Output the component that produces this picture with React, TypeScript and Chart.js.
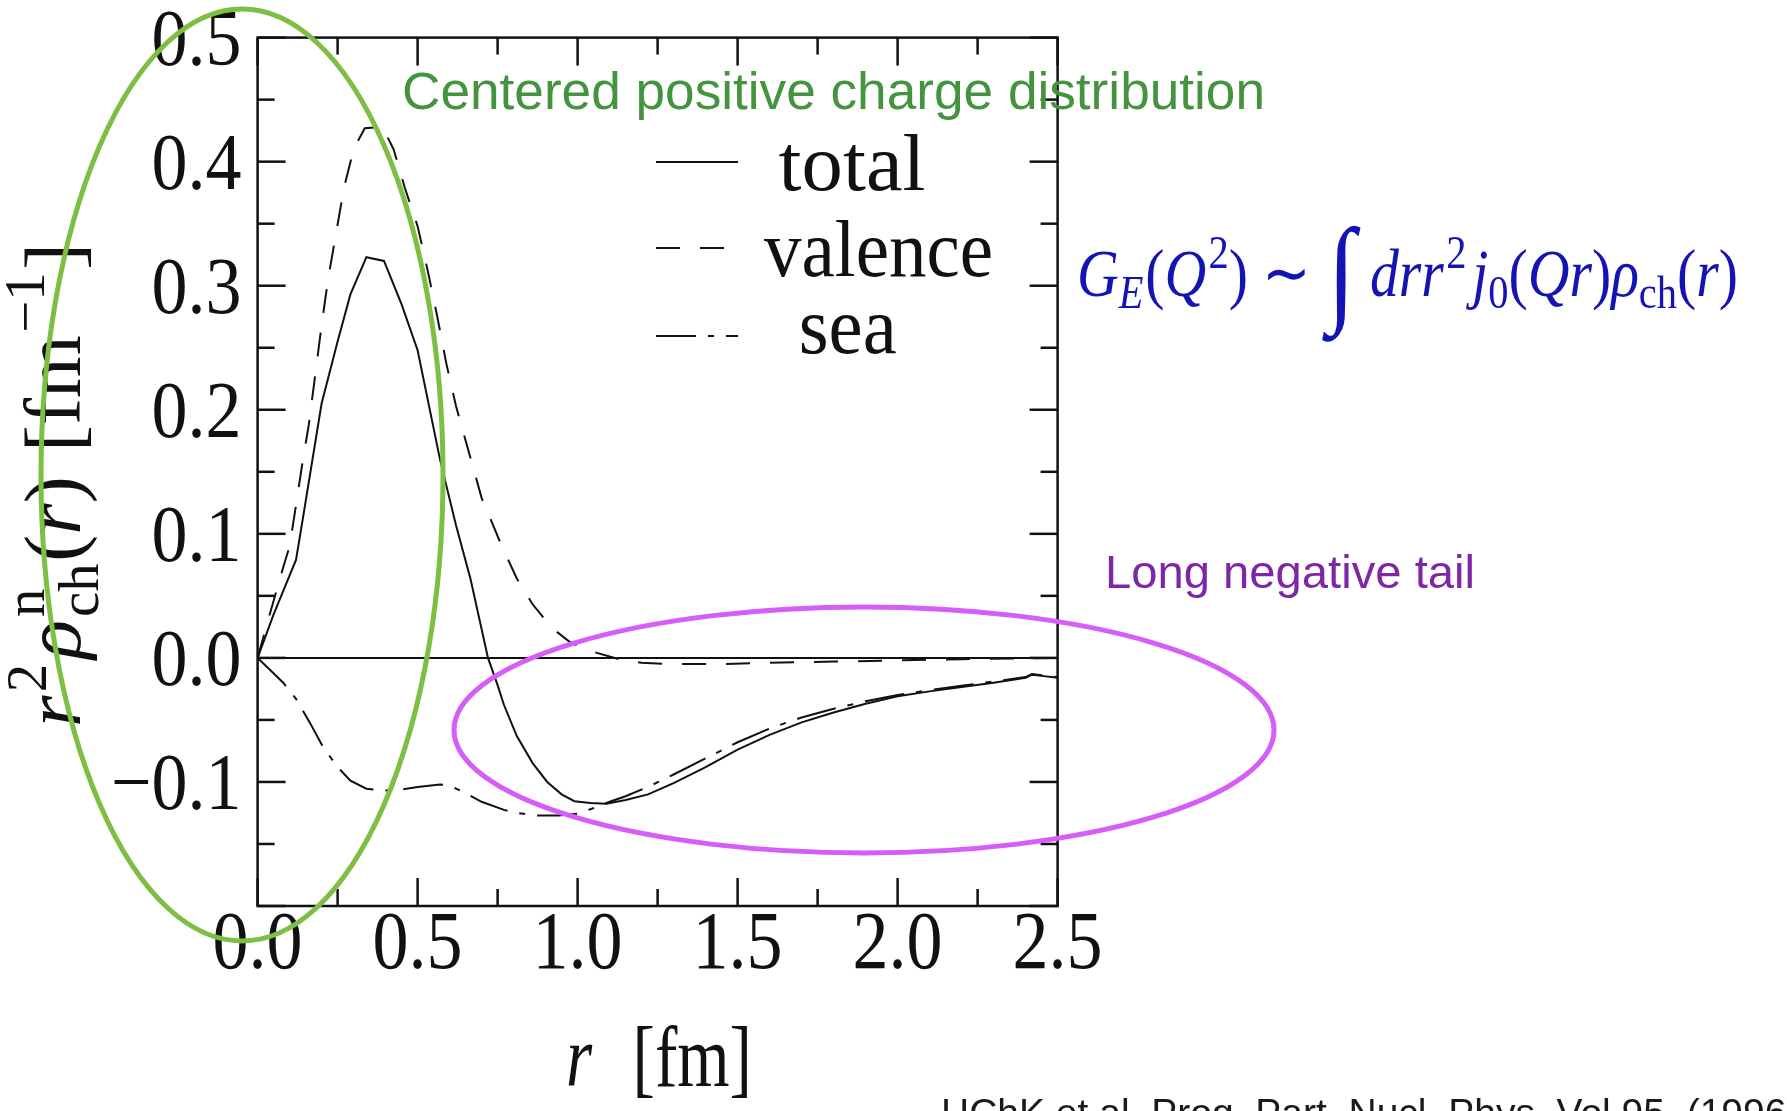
import React, { useEffect, useRef } from "react";
import { Chart, registerables } from "chart.js";

Chart.register(...registerables);

// ---------- data ----------
const rTotal = [0, 0.05, 0.12, 0.14, 0.2, 0.25, 0.29, 0.34, 0.395, 0.45, 0.5, 0.57, 0.62, 0.665, 0.72, 0.75, 0.77, 0.81, 0.86, 0.905, 0.95, 0.99, 1.04, 1.09, 1.15, 1.22, 1.3, 1.4, 1.5, 1.6, 1.7, 1.8, 1.9, 2.0, 2.1, 2.2, 2.3, 2.4, 2.42, 2.45, 2.5];
const vTotal = [0, 0.035, 0.079, 0.11, 0.205, 0.255, 0.293, 0.323, 0.32, 0.285, 0.248, 0.16, 0.107, 0.064, 0, -0.022, -0.038, -0.063, -0.085, -0.1, -0.11, -0.1155, -0.117, -0.1175, -0.1145, -0.11, -0.101, -0.088, -0.074, -0.062, -0.052, -0.044, -0.037, -0.031, -0.027, -0.0235, -0.02, -0.016, -0.0135, -0.0145, -0.016];

const rValence = [0, 0.04, 0.08, 0.1, 0.12, 0.14, 0.16, 0.18, 0.2, 0.22, 0.245, 0.27, 0.3, 0.335, 0.39, 0.425, 0.46, 0.5, 0.53, 0.56, 0.59, 0.62, 0.66, 0.7, 0.76, 0.81, 0.86, 0.92, 0.98, 1.06, 1.13, 1.2, 1.3, 1.45, 1.6, 1.8, 2.0, 2.2, 2.5];
const vValence = [0, 0.037, 0.073, 0.09, 0.123, 0.157, 0.188, 0.228, 0.268, 0.305, 0.342, 0.379, 0.41, 0.427, 0.428, 0.41, 0.379, 0.348, 0.314, 0.277, 0.237, 0.203, 0.166, 0.129, 0.092, 0.064, 0.043, 0.024, 0.012, 0.004, -0.001, -0.004, -0.005, -0.005, -0.004, -0.003, -0.002, -0.001, 0];

const rSea = [0, 0.04, 0.08, 0.12, 0.165, 0.205, 0.25, 0.29, 0.34, 0.39, 0.44, 0.5, 0.57, 0.6, 0.65, 0.7, 0.77, 0.81, 0.87, 0.94, 1.0, 1.04, 1.1, 1.15, 1.22, 1.3, 1.4, 1.5, 1.6, 1.7, 1.8, 1.9, 2.0, 2.1, 2.2, 2.3, 2.4, 2.42, 2.45, 2.5];
const vSea = [0, -0.01, -0.02, -0.033, -0.053, -0.072, -0.088, -0.099, -0.1055, -0.107, -0.1065, -0.104, -0.102, -0.103, -0.109, -0.116, -0.1225, -0.125, -0.127, -0.127, -0.1255, -0.122, -0.116, -0.1115, -0.104, -0.094, -0.081, -0.068, -0.057, -0.048, -0.041, -0.035, -0.03, -0.026, -0.0225, -0.019, -0.0155, -0.013, -0.014, -0.0155];

const rZero = [0, 2.5];
const vZero = [0, 0];

const seriesLabels = ["total", "valence", "sea"];
const xMajorTicks = [0, 0.5, 1.0, 1.5, 2.0, 2.5];
const xMinorTicks = [0.25, 0.75, 1.25, 1.75, 2.25];
const yMajorTicks = [-0.2, -0.1, 0, 0.1, 0.2, 0.3, 0.4, 0.5];
const yMinorTicks = [-0.15, -0.05, 0.05, 0.15, 0.25, 0.35, 0.45];
const yLabelTicks = [-0.1, 0, 0.1, 0.2, 0.3, 0.4, 0.5];

const annotationGreen = "Centered positive charge distribution";
const annotationPurple = "Long negative tail";
const citation = "HChK et al. Prog. Part. Nucl. Phys. Vol.95, (1996)";

// ---------- layout ----------
const W = 1787;
const H = 1111;
const AREA = { left: 257.6, right: 1057.6, top: 37.6, bottom: 906 };
const SERIF = '"Liberation Serif", "Times New Roman", serif';
const SANS = '"Liberation Sans", Arial, sans-serif';

const pts = (xs: number[], ys: number[]) => xs.map((x, i) => ({ x, y: ys[i] }));

function fmt(v: number) {
  const s = Math.abs(v).toFixed(1);
  return v < -1e-9 ? "\u2212" + s : s;
}

function drawText(ctx: CanvasRenderingContext2D, s: string, x: number, y: number, font: string, color: string, align: CanvasTextAlign, sx: number, sy: number) {
  ctx.save();
  ctx.font = font;
  ctx.fillStyle = color;
  ctx.textAlign = align;
  ctx.textBaseline = "alphabetic";
  ctx.translate(x, y);
  ctx.scale(sx, sy);
  ctx.fillText(s, 0, 0);
  ctx.restore();
}

function fitText(ctx: CanvasRenderingContext2D, s: string, x: number, y: number, font: string, color: string, width: number, sy: number) {
  ctx.save();
  ctx.font = font;
  const w = ctx.measureText(s).width;
  ctx.restore();
  drawText(ctx, s, x, y, font, color, "left", width / w, sy);
}

type Seg = { t: string; it?: boolean; k?: number; dy?: number; stay?: boolean; gap?: number };

function drawMath(ctx: CanvasRenderingContext2D, segs: Seg[], x: number, y: number, size: number, color: string, target: number, sy: number, rotate: boolean) {
  ctx.save();
  const fontOf = (s: Seg) => `${s.it ? "italic " : ""}${size * (s.k ?? 1)}px ${SERIF}`;
  let total = 0;
  const adv: number[] = [];
  for (const s of segs) {
    ctx.font = fontOf(s);
    const w = ctx.measureText(s.t).width;
    total += (s.gap ?? 0) * size;
    adv.push(w);
    if (!s.stay) total += w;
  }
  const sx = target / total;
  ctx.translate(x, y);
  if (rotate) ctx.rotate(-Math.PI / 2);
  ctx.scale(sx, sy);
  ctx.fillStyle = color;
  ctx.textBaseline = "alphabetic";
  ctx.textAlign = "left";
  let cx = 0;
  segs.forEach((s, i) => {
    cx += (s.gap ?? 0) * size;
    ctx.font = fontOf(s);
    ctx.fillText(s.t, cx, (s.dy ?? 0) * size);
    if (!s.stay) cx += adv[i];
  });
  ctx.restore();
}

const decorPlugin = {
  id: "decor",
  beforeDraw(chart: any) {
    const ctx = chart.ctx;
    ctx.save();
    ctx.fillStyle = "#ffffff";
    ctx.fillRect(0, 0, chart.width, chart.height);
    ctx.restore();
  },
  afterDraw(chart: any) {
    const ctx: CanvasRenderingContext2D = chart.ctx;
    const { left, right, top, bottom } = chart.chartArea;
    const xs = chart.scales.x;
    const ys = chart.scales.y;
    const ink = "#111111";

    // frame
    ctx.save();
    ctx.strokeStyle = ink;
    ctx.lineWidth = 2.5;
    ctx.strokeRect(left, top, right - left, bottom - top);

    // inward ticks on all four sides
    const tick = (x1: number, y1: number, x2: number, y2: number) => {
      ctx.beginPath();
      ctx.moveTo(x1, y1);
      ctx.lineTo(x2, y2);
      ctx.stroke();
    };
    const MAJ = 28;
    const MIN = 17;
    xMajorTicks.forEach((v) => {
      const px = xs.getPixelForValue(v);
      tick(px, bottom, px, bottom - MAJ);
      tick(px, top, px, top + MAJ);
    });
    xMinorTicks.forEach((v) => {
      const px = xs.getPixelForValue(v);
      tick(px, bottom, px, bottom - MIN);
      tick(px, top, px, top + MIN);
    });
    yMajorTicks.forEach((v) => {
      const py = ys.getPixelForValue(v);
      tick(left, py, left + MAJ, py);
      tick(right, py, right - MAJ, py);
    });
    yMinorTicks.forEach((v) => {
      const py = ys.getPixelForValue(v);
      tick(left, py, left + MIN, py);
      tick(right, py, right - MIN, py);
    });
    ctx.restore();

    // tick labels
    const tickFont = `72px ${SERIF}`;
    xMajorTicks.forEach((v) => {
      drawText(ctx, fmt(v), xs.getPixelForValue(v), 968, tickFont, ink, "center", 1, 1.15);
    });
    yLabelTicks.forEach((v) => {
      drawText(ctx, fmt(v), left - 16, ys.getPixelForValue(v) + 27, tickFont, ink, "right", 1, 1.12);
    });

    // legend (from dataset styles)
    const lineY = [162, 248, 336];
    const textX = [778.6, 764, 798.7];
    const textBase = [190, 276, 352.7];
    const textW = [147, 229, 98];
    seriesLabels.forEach((lab, i) => {
      const ds = chart.data.datasets[i];
      ctx.save();
      ctx.strokeStyle = ds.borderColor;
      ctx.lineWidth = ds.borderWidth;
      ctx.setLineDash(ds.borderDash || []);
      ctx.beginPath();
      ctx.moveTo(656, lineY[i]);
      ctx.lineTo(738, lineY[i]);
      ctx.stroke();
      ctx.restore();
      fitText(ctx, lab, textX[i], textBase[i], `74px ${SERIF}`, ink, textW[i], 1.1);
    });

    // x axis title: r [fm]
    drawMath(ctx, [{ t: "r", it: true }, { t: "[fm]", gap: 0.6 }], 566, 1086, 66, ink, 186, 1.3, false);

    // y axis title: r^2 rho^n_ch(r) [fm^-1]
    drawMath(
      ctx,
      [
        { t: "r", it: true },
        { t: "2", k: 0.7, dy: -0.42, gap: 0.04 },
        { t: "\u03C1", it: true, gap: 0.06 },
        { t: "n", k: 0.7, dy: -0.45, stay: true, gap: 0.04 },
        { t: "ch", k: 0.7, dy: 0.22 },
        { t: "(", gap: 0.02 },
        { t: "r", it: true },
        { t: ")" },
        { t: "[", gap: 0.3 },
        { t: "fm" },
        { t: "\u22121", k: 0.7, dy: -0.45, gap: 0.03 },
        { t: "]", gap: 0.03 },
      ],
      80,
      727,
      80,
      ink,
      484,
      1.0,
      true
    );

    // annotations
    ctx.save();
    ctx.lineWidth = 5;
    ctx.strokeStyle = "#7DBE43";
    ctx.beginPath();
    ctx.ellipse(242, 475, 201, 466, 0, 0, Math.PI * 2);
    ctx.stroke();
    ctx.strokeStyle = "#D45EF7";
    ctx.beginPath();
    ctx.ellipse(864, 730, 410, 123, 0, 0, Math.PI * 2);
    ctx.stroke();
    ctx.restore();

    fitText(ctx, annotationGreen, 402, 109, `51px ${SANS}`, "#44943F", 863, 1);
    fitText(ctx, annotationPurple, 1105, 588, `47px ${SANS}`, "#7E27A6", 370, 1);

    // formula
    drawMath(
      ctx,
      [
        { t: "G", it: true },
        { t: "E", it: true, k: 0.7, dy: 0.18 },
        { t: "(", gap: 0.03 },
        { t: "Q", it: true },
        { t: "2", k: 0.7, dy: -0.42, gap: 0.04 },
        { t: ")" },
        { t: "\u223C", gap: 0.25 },
        { t: "\u222B", k: 1.75, dy: 0.2, gap: 0.3 },
        { t: "d", it: true, gap: 0.25 },
        { t: "r", it: true },
        { t: "r", it: true },
        { t: "2", k: 0.7, dy: -0.42, gap: 0.04 },
        { t: "j", it: true, gap: 0.1 },
        { t: "0", k: 0.7, dy: 0.18 },
        { t: "(" },
        { t: "Q", it: true },
        { t: "r", it: true },
        { t: ")" },
        { t: "\u03C1", it: true },
        { t: "ch", k: 0.7, dy: 0.18 },
        { t: "(" },
        { t: "r", it: true },
        { t: ")" },
      ],
      1077,
      296,
      54,
      "#1414B4",
      661,
      1.25,
      false
    );

    // citation (clipped by the bottom edge)
    drawText(ctx, citation, 941, 1126, `39px ${SANS}`, "#1a1a1a", "left", 1, 1);
  },
};

export default function App() {
  const ref = useRef<HTMLCanvasElement | null>(null);
  useEffect(() => {
    if (!ref.current) return;
    const line = (label: string, xs: number[], ys: number[], dash: number[]) => ({
      label,
      data: pts(xs, ys),
      borderColor: "#111111",
      borderWidth: 2,
      borderDash: dash,
      pointRadius: 0,
      tension: 0,
      fill: false,
    });
    const chart = new Chart(ref.current, {
      type: "line",
      data: {
        datasets: [
          line(seriesLabels[0], rTotal, vTotal, []),
          line(seriesLabels[1], rValence, vValence, [24, 20]),
          line(seriesLabels[2], rSea, vSea, [40, 12, 6, 12]),
          line("zero", rZero, vZero, []),
        ],
      },
      options: {
        responsive: false,
        animation: false,
        devicePixelRatio: 1,
        layout: { padding: { left: 0, top: AREA.top, right: W - AREA.right, bottom: 0 } },
        plugins: { legend: { display: false }, tooltip: { enabled: false } },
        scales: {
          x: {
            type: "linear",
            min: 0,
            max: 2.5,
            ticks: { display: false, stepSize: 0.5 },
            grid: { display: false },
            border: { display: false },
            afterFit: (s: any) => {
              s.height = H - AREA.bottom;
              s.paddingLeft = 0;
              s.paddingRight = 0;
              s.paddingTop = 0;
              s.paddingBottom = 0;
            },
          },
          y: {
            type: "linear",
            min: -0.2,
            max: 0.5,
            ticks: { display: false, stepSize: 0.1 },
            grid: { display: false },
            border: { display: false },
            afterFit: (s: any) => {
              s.width = AREA.left;
              s.paddingLeft = 0;
              s.paddingRight = 0;
              s.paddingTop = 0;
              s.paddingBottom = 0;
            },
          },
        },
      } as any,
      plugins: [decorPlugin],
    });
    return () => chart.destroy();
  }, []);
  return (
    <div style={{ position: "fixed", left: 0, top: 0, width: W, height: H, background: "#fff", overflow: "hidden" }}>
      <canvas ref={ref} width={W} height={H} style={{ display: "block", width: W, height: H }} />
    </div>
  );
}
